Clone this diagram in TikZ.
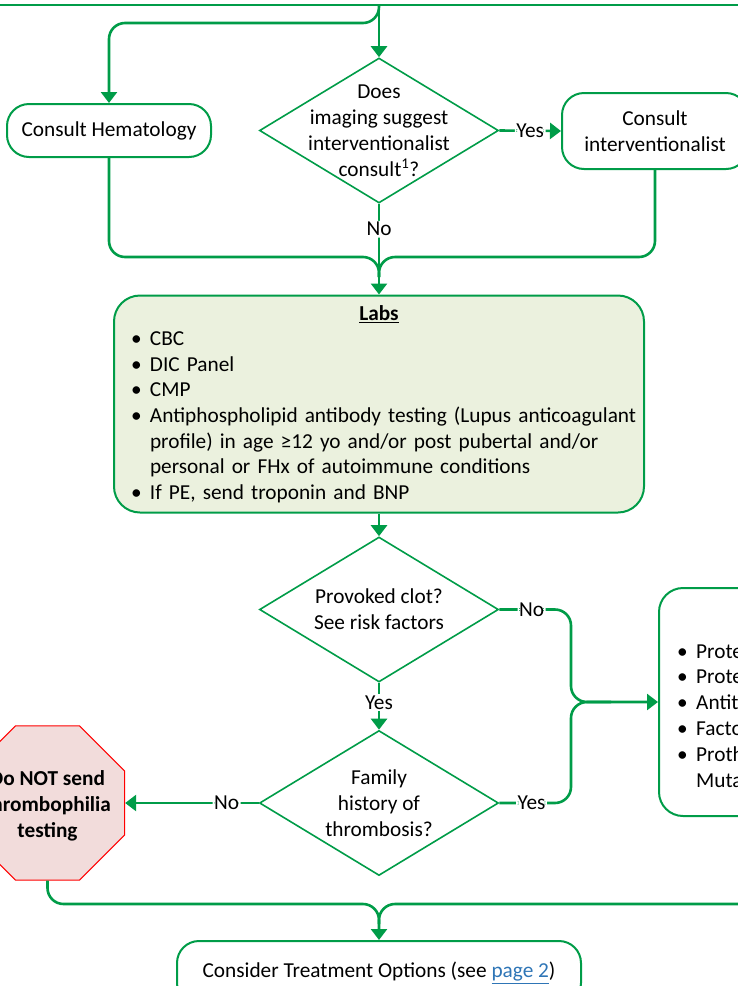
\documentclass[tikz,border=0pt]{standalone}
\usepackage{fontspec}
\setmainfont{Carlito}
\usetikzlibrary{shapes.geometric}
\usetikzlibrary{arrows.meta}

\definecolor{flowgreen}{RGB}{0,156,72}
\definecolor{labfill}{RGB}{235,241,222}
\definecolor{stopfill}{RGB}{242,220,219}
\definecolor{stopred}{RGB}{255,0,0}
\definecolor{linkblue}{RGB}{46,117,182}

\newcommand{\labitem}[1]{\par\noindent\hangindent=19pt\hangafter=1\makebox[19pt][l]{\textbullet}#1\par}

\begin{document}
\begin{tikzpicture}[x=1pt,y=-1pt,
    every node/.style={font=\fontsize{21.3}{26}\selectfont},
    flowbox/.style={draw=flowgreen,line width=2pt,rounded corners=22pt,align=center,inner sep=0pt},
    labsbox/.style={draw=flowgreen,line width=2pt,fill=labfill,rounded corners=26pt,minimum width=530pt,minimum height=217pt,text width=496pt,inner xsep=17pt,inner ysep=0pt,align=left,font=\fontsize{21.3}{25.6}\selectfont},
    decision/.style={draw=flowgreen,line width=1.6pt,diamond,minimum width=239pt,minimum height=145pt,inner sep=0pt},
    stopsign/.style={draw=stopred,line width=1pt,fill=stopfill,regular polygon,regular polygon sides=8,minimum size=167pt,inner sep=0pt},
    stoptext/.style={font=\fontsize{21.3}{26}\selectfont\bfseries,align=center},
    flow/.style={draw=flowgreen,line width=2.6pt,rounded corners=16pt},
    flowarrow/.style={flow,-{Triangle[width=16pt,length=11pt]}},
    choice/.style={fill=white,inner sep=1.5pt}]

    \useasboundingbox (0,0) rectangle (738,986);
    \clip (0,0) rectangle (738,986);

    \coordinate (topL) at (0,5);
    \coordinate (topR) at (738,5);
    \coordinate (split) at (379,5);
    \coordinate (m1) at (379,257);
    \coordinate (j1) at (571,702);
    \coordinate (m2) at (379,904);
    \coordinate (botR) at (738,904);

    \node[flowbox,minimum width=204pt,minimum height=53pt] at (109,130.5) (hema) {Consult Hematology};
    \node[decision,label={[align=center]center:{Does\\imaging suggest\\interventionalist\\consult\textsuperscript{1}?}}] at (379,130.5) (imaging) {};
    \node[flowbox,minimum width=186pt,minimum height=76pt] at (655,131) (interv) {Consult\\interventionalist};

    \node[labsbox] at (379,404) (labs) {{\centering\underline{\textbf{Labs}}\par}
        \labitem{CBC}
        \labitem{DIC Panel}
        \labitem{CMP}
        \labitem{\mbox{Antiphospholipid antibody testing (Lupus anticoagulant}\newline \mbox{profile) in age ≥12 yo and/or post pubertal and/or}\newline \mbox{personal or FHx of autoimmune conditions}}
        \labitem{If PE, send troponin and BNP}};

    \node[decision,label={[align=center]center:{Provoked clot?\\See risk factors}}] at (379,609.5) (provoked) {};
    \node[decision,label={[align=center]center:{Family\\history of\\thrombosis?}}] at (379,803) (famhx) {};
    \node[stopsign,label={[stoptext,yshift=-3pt]center:{Do NOT send\\thrombophilia\\testing}}] at (47.5,803) (donot) {};

    \node[flowbox,minimum width=260pt,minimum height=228pt,rounded corners=24pt] at (789,702) (thrombo) {};
    \node[anchor=north west,text width=300pt,align=left,inner sep=0pt,font=\fontsize{21.3}{25.8}\selectfont] at (677,632) (thrombolist) {\labitem{Protein C}
        \labitem{Protein S}
        \labitem{Antithrombin}
        \labitem{Factor V Leiden}
        \labitem{Prothrombin Gene\newline Mutation}};

    \node[flowbox,minimum width=404pt,minimum height=64pt] at (379,973) (treat) {Consider Treatment Options (see \textcolor{linkblue}{\underline{page 2}})};

    \draw[flow] (topL) -- (topR);
    \draw[flowarrow] (split) -- (imaging.north);
    \draw[flowarrow] (split) |- (109,23) -- (hema.north);
    \draw[flowarrow] (imaging.east) -- node[choice]{Yes} (interv.west);
    \draw[flowarrow] (imaging.south) -- node[choice,pos=0.28]{No} (labs.north);
    \draw[flow] (hema.south) |- (m1) -- ++(0,20);
    \draw[flow] (interv.south) |- (m1) -- ++(0,20);

    \draw[flowarrow] (labs.south) -- (provoked.north);
    \draw[flowarrow] (provoked.south) -- node[choice,pos=0.42]{Yes} (famhx.north);
    \draw[flowarrow] (provoked.east) -- node[choice,pos=0.45]{No} (571,609.5) -- (j1) -- (thrombo.west);
    \draw[flow] (famhx.east) -- node[choice,pos=0.45]{Yes} (571,803) -- (j1) -- ++(40,0);
    \draw[flowarrow] (famhx.west) -- node[choice,pos=0.24]{No} (donot.east);

    \draw[flowarrow] (donot.south) |- (m2) -- (treat.north);
    \draw[flow] (botR) -- (m2) -- ++(0,20);
\end{tikzpicture}
\end{document}
